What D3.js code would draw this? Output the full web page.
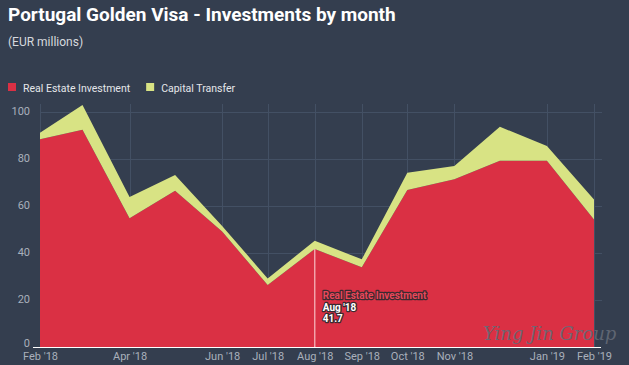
<!DOCTYPE html>
<html><head><meta charset="utf-8">
<script src="https://cdn.jsdelivr.net/npm/d3@7"></script>
<style>
html,body{margin:0;padding:0;background:#343e4f;}
svg{display:block;font-family:Roboto,"Noto Sans",sans-serif;}
</style></head>
<body><svg id="c" width="629" height="365"></svg>
<script>
const months = ["2018-02","2018-03","2018-04","2018-05","2018-06","2018-07","2018-08","2018-09","2018-10","2018-11","2018-12","2019-01","2019-02"];
const realEstate = [88.4, 92.5, 54.8, 66.5, 49.1, 26.4, 41.7, 33.9, 66.8, 71.4, 79.3, 79.3, 54.3];
const capitalTransfer = [2.8, 10.5, 9.0, 6.7, 2.4, 2.8, 3.5, 3.4, 7.4, 5.6, 14.4, 6.2, 8.5];
const seriesNames = ["Real Estate Investment", "Capital Transfer"];
const seriesColors = ["#da3044", "#d8e384"];
const yTicks = [0, 20, 40, 60, 80, 100];
const xTickMonths = ["2018-02","2018-04","2018-06","2018-07","2018-08","2018-09","2018-10","2018-11","2019-01","2019-02"];

const parse = d3.timeParse("%Y-%m");
const svg = d3.select("#c");
const x = d3.scaleTime().domain([parse(months[0]), parse(months[months.length-1])]).range([40, 594]);
const y = d3.scaleLinear().domain([0, 100]).range([347, 112]);

const rows = months.map((mo, i) => ({date: parse(mo), re: realEstate[i], ct: capitalTransfer[i]}));
const layers = d3.stack().keys(["re","ct"])(rows);

// title
svg.append("text").attr("x", 8).attr("y", 21).attr("fill", "#ffffff")
  .attr("font-size", 19).attr("font-weight", "bold").text("Portugal Golden Visa - Investments by month");
svg.append("text").attr("x", 8).attr("y", 46).attr("fill", "#d6d9de")
  .attr("font-size", 12).text("(EUR millions)");

// legend
const leg = svg.append("g");
let lx = 8;
seriesNames.forEach((n, i) => {
  leg.append("rect").attr("x", lx).attr("y", 83).attr("width", 8).attr("height", 8).attr("fill", seriesColors[i]);
  const t = leg.append("text").attr("x", lx + 15).attr("y", 91.5).attr("fill", "#e4e6ea")
    .attr("font-size", 10.5).text(n);
  lx += 15 + t.node().getComputedTextLength() + 16;
});

// gridlines
const grid = svg.append("g");
yTicks.forEach(v => {
  if (v === 0) return;
  grid.append("line").attr("x1", 40).attr("x2", 602).attr("y1", Math.round(y(v)) + 0.5).attr("y2", Math.round(y(v)) + 0.5)
    .attr("stroke", "#435064").attr("stroke-width", 1);
});
xTickMonths.forEach(mo => {
  const xx = Math.round(x(parse(mo))) + 0.5;
  grid.append("line").attr("x1", xx).attr("x2", xx).attr("y1", 104).attr("y2", 347)
    .attr("stroke", "#435064").attr("stroke-width", 1);
});

// areas
const area = d3.area().x(d => x(d.data.date)).y0(d => y(d[0])).y1(d => y(d[1]));
svg.append("g").selectAll("path").data(layers).join("path")
  .attr("d", area).attr("fill", (d, i) => seriesColors[i]);

// y axis labels
const yAxis = d3.axisLeft(y).tickValues(yTicks).tickSize(0).tickPadding(0);
const ya = svg.append("g").attr("transform", "translate(30,-1.5)").call(yAxis);
ya.select(".domain").remove();
ya.selectAll("text").attr("fill", "#a9b0bb").attr("font-size", 11).attr("font-family", "Roboto,sans-serif");
ya.selectAll(".tick").filter(d => d === 0).select("text").attr("dy", "0.1em");

// x axis
const xAxis = d3.axisBottom(x).tickValues(xTickMonths.map(parse)).tickFormat(d3.timeFormat("%b '%y")).tickSize(0).tickPadding(5);
const xa = svg.append("g").attr("transform", "translate(0,347)").call(xAxis);
xa.select(".domain").remove();
xa.selectAll("text").attr("fill", "#a9b0bb").attr("font-size", 11).attr("font-family", "Roboto,sans-serif");
svg.append("line").attr("x1", 33).attr("x2", 601).attr("y1", 347.5).attr("y2", 347.5)
  .attr("stroke", "#ffffff").attr("stroke-width", 1.2);

// tooltip marker at Aug '18
const ti = 6;
const tx = x(rows[ti].date);
svg.append("line").attr("x1", tx).attr("x2", tx).attr("y1", y(realEstate[ti])).attr("y2", 347)
  .attr("stroke", "#f2a3ab").attr("stroke-width", 1.5);
const tip = svg.append("g").attr("font-size", 10).attr("font-weight", "bold")
  .attr("stroke", "#3a2a30").attr("stroke-width", 2.5).attr("paint-order", "stroke").attr("stroke-linejoin", "round");
tip.append("text").attr("x", tx + 8).attr("y", 299).attr("fill", "#e8475a").text(seriesNames[0]);
tip.append("text").attr("x", tx + 8).attr("y", 310.5).attr("fill", "#ffffff").text("Aug '18");
tip.append("text").attr("x", tx + 8).attr("y", 322).attr("fill", "#ffffff").text(realEstate[ti]);

// watermark
svg.append("text").attr("x", 483).attr("y", 340).attr("fill", "#646b77").attr("fill-opacity", 0.9)
  .attr("font-family", "'DejaVu Serif','Liberation Serif',serif").attr("font-style", "italic")
  .attr("font-size", 18).text("Ying Jin Group");
</script></body></html>
